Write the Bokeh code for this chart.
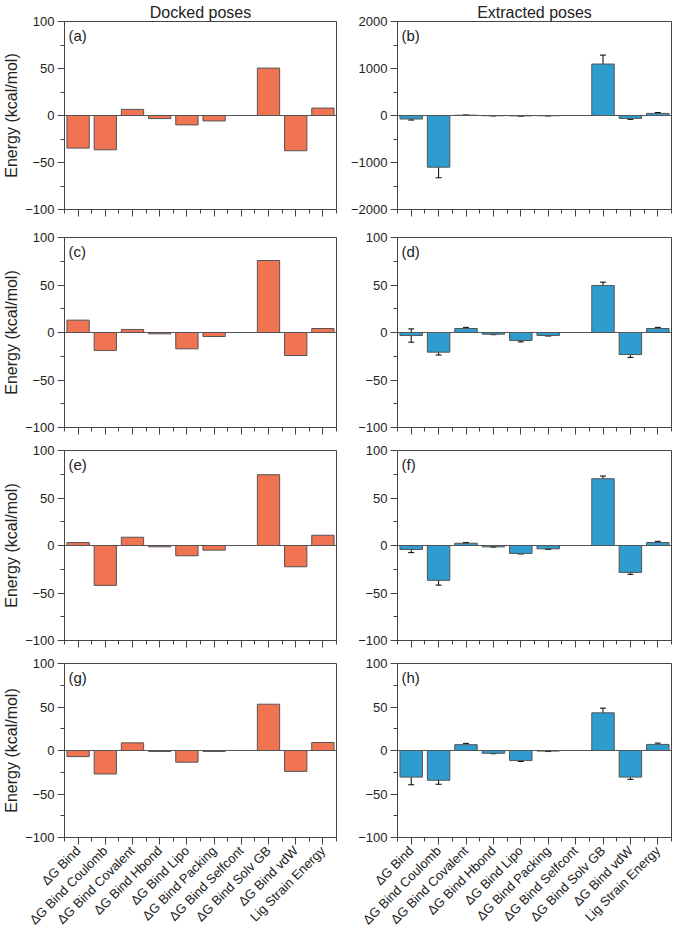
from bokeh.plotting import figure
from bokeh.layouts import gridplot
from bokeh.models import (Range1d, FixedTicker, Span, Label, Whisker, TeeHead,
                          ColumnDataSource, CustomLabelingPolicy)
from bokeh.embed import file_html
from bokeh.resources import INLINE

categories = ["ΔG Bind", "ΔG Bind Coulomb", "ΔG Bind Covalent", "ΔG Bind Hbond",
              "ΔG Bind Lipo", "ΔG Bind Packing", "ΔG Bind Selfcont",
              "ΔG Bind Solv GB", "ΔG Bind vdW", "Lig Strain Energy"]

docked_a = [-34.7, -36.5, 6.5, -3.3, -10.0, -5.8, 0.0, 50.4, -37.5, 7.9]
docked_c = [13.0, -19.0, 3.2, -1.4, -17.2, -4.2, 0.0, 75.8, -24.2, 4.2]
docked_e = [3.1, -42.0, 8.7, -1.4, -10.8, -4.9, 0.0, 74.5, -22.4, 10.8]
docked_g = [-7.0, -27.0, 8.8, -1.1, -13.4, -1.1, 0.0, 53.2, -24.0, 9.2]

extracted_b = [-75.0, -1100.0, 6.0, -5.0, -8.0, -5.0, 0.0, 1095.0, -62.0, 45.0]
err_b = [22.0, 225.0, 3.0, 2.0, 3.0, 2.0, 0.0, 190.0, 20.0, 18.0]
extracted_d = [-3.2, -20.7, 4.2, -1.8, -8.4, -3.2, 0.0, 49.5, -23.2, 4.2]
err_d = [7.0, 3.0, 1.2, 0.5, 1.5, 0.5, 0.0, 3.5, 3.0, 1.2]
extracted_f = [-4.2, -36.7, 2.4, -1.4, -8.4, -3.5, 0.0, 70.3, -28.3, 3.1]
err_f = [3.3, 5.0, 0.8, 0.3, 0.5, 0.5, 0.0, 2.8, 2.0, 1.3]
extracted_h = [-30.6, -34.2, 6.7, -3.2, -11.6, -0.7, 0.0, 43.3, -30.6, 7.0]
err_h = [8.8, 4.6, 1.5, 0.5, 1.0, 0.5, 0.0, 5.4, 2.6, 1.5]

y_ticks_small = [-100, -50, 0, 50, 100]
y_minor_small = [-75, -25, 25, 75]
y_ticks_large = [-2000, -1000, 0, 1000, 2000]
y_minor_large = [-1500, -500, 500, 1500]

ORANGE = "#F07352"
BLUE = "#2E9CCF"
EDGE = "#555555"
FONT = "Liberation Sans"

xs = list(range(1, len(categories) + 1))
x_minor = [i + 0.5 for i in range(0, len(categories) + 1)]

HIDE_LABELS = CustomLabelingPolicy(
    code="for (const i of Array.from(indices)) { indices.unset(i) }\nreturn indices")


def make_panel(vals, errs, color, tag, left_col, row, yt, ym, title=None):
    ymax = yt[-1]
    bl = 62 if left_col else 57
    br = 4 if left_col else 1
    fw = 274
    fh = 190
    if row == 0:
        bt, bb = 19, 18
    elif row == 3:
        bt, bb = 10, 82
    else:
        bt, bb = 10, 13
    p = figure(width=bl + fw + br, height=bt + fh + bb,
               x_range=Range1d(0.5, len(categories) + 0.5),
               y_range=Range1d(yt[0], yt[-1]),
               output_backend="svg", toolbar_location=None,
               min_border_left=bl, min_border_right=br,
               min_border_top=bt, min_border_bottom=bb)
    p.xgrid.visible = False
    p.ygrid.visible = False
    p.outline_line_color = "#444444"
    p.outline_line_width = 1
    p.background_fill_color = "white"
    p.border_fill_color = "white"

    if title is not None:
        p.title.text = title
        p.title.align = "center"
        p.title.text_font = FONT
        p.title.text_font_size = "16px"
        p.title.text_font_style = "normal"
        p.title.text_color = "#222222"
        p.title.standoff = 2

    src = dict(x=xs, top=vals)
    if errs is not None:
        src["upper"] = [v + e for v, e in zip(vals, errs)]
        src["lower"] = [v - e for v, e in zip(vals, errs)]
    source = ColumnDataSource(src)
    p.vbar(x="x", top="top", bottom=0, width=0.82, source=source,
           fill_color=color, line_color=EDGE, line_width=1)
    p.add_layout(Span(location=0, dimension="width", line_color="#555555",
                      line_width=1))
    if errs is not None:
        w = Whisker(source=source, base="x", upper="upper", lower="lower",
                    line_color="black", line_width=1,
                    upper_head=TeeHead(size=6, line_color="black", line_width=1),
                    lower_head=TeeHead(size=6, line_color="black", line_width=1))
        p.add_layout(w)

    # x axis
    xa = p.xaxis[0]
    xa.ticker = FixedTicker(ticks=xs, minor_ticks=x_minor)
    xa.axis_line_color = "#444444"
    xa.major_tick_line_color = "#444444"
    xa.minor_tick_line_color = "#444444"
    xa.major_tick_out = 7
    xa.major_tick_in = 0
    xa.minor_tick_out = 4
    xa.minor_tick_in = 0
    if row == 3:
        xa.major_label_overrides = {x: c for x, c in zip(xs, categories)}
        xa.major_label_orientation = 0.785398
        xa.major_label_text_font = FONT
        xa.major_label_text_font_size = "13px"
        xa.major_label_text_color = "#222222"
        xa.major_label_standoff = 4
    else:
        xa.major_label_policy = HIDE_LABELS
        xa.major_label_text_font_size = "1px"
        xa.major_label_standoff = 0

    # y axis
    ya = p.yaxis[0]
    ya.ticker = FixedTicker(ticks=yt, minor_ticks=ym)
    ya.axis_line_color = "#444444"
    ya.major_tick_line_color = "#444444"
    ya.minor_tick_line_color = "#444444"
    ya.major_tick_out = 7
    ya.major_tick_in = 0
    ya.minor_tick_out = 4
    ya.minor_tick_in = 0
    ya.major_label_text_font = FONT
    ya.major_label_text_font_size = "13px"
    ya.major_label_text_color = "#222222"
    ya.major_label_standoff = 3
    if left_col:
        ya.axis_label = "Energy (kcal/mol)"
        ya.axis_label_text_font = FONT
        ya.axis_label_text_font_size = "16px"
        ya.axis_label_text_font_style = "normal"
        ya.axis_label_text_color = "#222222"
        ya.axis_label_standoff = 2

    p.add_layout(Label(x=0.5, y=ymax, x_offset=4, y_offset=-5, text=tag,
                       text_font=FONT, text_font_size="15px",
                       text_color="#222222", text_baseline="top",
                       text_align="left"))
    return p


pa = make_panel(docked_a, None, ORANGE, "(a)", True, 0,
                y_ticks_small, y_minor_small, "Docked poses")
pb = make_panel(extracted_b, err_b, BLUE, "(b)", False, 0,
                y_ticks_large, y_minor_large, "Extracted poses")
pc = make_panel(docked_c, None, ORANGE, "(c)", True, 1,
                y_ticks_small, y_minor_small)
pd = make_panel(extracted_d, err_d, BLUE, "(d)", False, 1,
                y_ticks_small, y_minor_small)
pe = make_panel(docked_e, None, ORANGE, "(e)", True, 2,
                y_ticks_small, y_minor_small)
pf = make_panel(extracted_f, err_f, BLUE, "(f)", False, 2,
                y_ticks_small, y_minor_small)
pg = make_panel(docked_g, None, ORANGE, "(g)", True, 3,
                y_ticks_small, y_minor_small)
ph = make_panel(extracted_h, err_h, BLUE, "(h)", False, 3,
                y_ticks_small, y_minor_small)

grid = gridplot([[pa, pb], [pc, pd], [pe, pf], [pg, ph]],
                toolbar_location=None)

open("out.html", "w").write(file_html(grid, INLINE))
